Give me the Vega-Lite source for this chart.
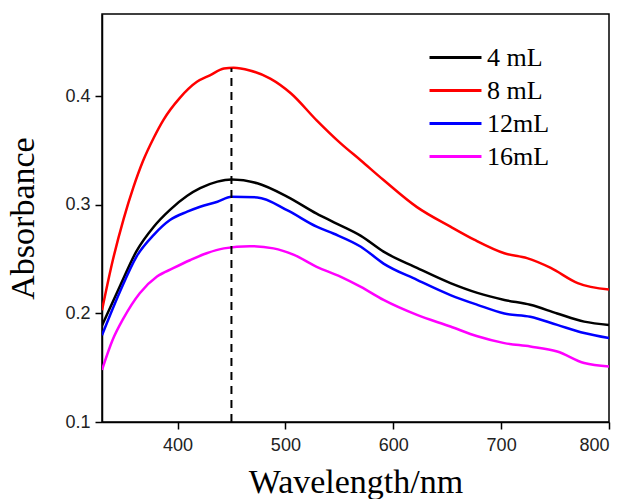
{
  "$schema": "https://vega.github.io/schema/vega-lite/v6.json",
  "width": 507,
  "height": 408,
  "autosize": {"type": "none"},
  "padding": {"left": 102, "top": 14, "right": 15, "bottom": 77},
  "background": "white",
  "config": {
    "view": {"stroke": "black", "strokeWidth": 1.5},
    "axis": {
      "labelFont": "Liberation Sans",
      "labelFontSize": 18,
      "labelColor": "#222222",
      "domainColor": "black",
      "domainWidth": 1.5,
      "tickColor": "black",
      "tickWidth": 1.5,
      "tickSize": 7,
      "grid": false,
      "titleFont": "Liberation Serif",
      "titleFontSize": 34,
      "titleFontWeight": "normal",
      "titleColor": "black"
    }
  },
  "datasets": {
    "spectra": [
      {"s": "4 mL", "x": 330, "y": 0.189}, {"s": "4 mL", "x": 347, "y": 0.226}, {"s": "4 mL", "x": 362, "y": 0.2575}, {"s": "4 mL", "x": 378, "y": 0.28}, {"s": "4 mL", "x": 393, "y": 0.2955}, {"s": "4 mL", "x": 409, "y": 0.3085}, {"s": "4 mL", "x": 421, "y": 0.3155}, {"s": "4 mL", "x": 437, "y": 0.3215}, {"s": "4 mL", "x": 450, "y": 0.3235}, {"s": "4 mL", "x": 474, "y": 0.32}, {"s": "4 mL", "x": 502, "y": 0.3075}, {"s": "4 mL", "x": 529, "y": 0.292}, {"s": "4 mL", "x": 545, "y": 0.284}, {"s": "4 mL", "x": 570, "y": 0.2715}, {"s": "4 mL", "x": 591, "y": 0.257}, {"s": "4 mL", "x": 622, "y": 0.242}, {"s": "4 mL", "x": 653, "y": 0.228}, {"s": "4 mL", "x": 678, "y": 0.219}, {"s": "4 mL", "x": 703, "y": 0.2125}, {"s": "4 mL", "x": 727, "y": 0.208}, {"s": "4 mL", "x": 752, "y": 0.2}, {"s": "4 mL", "x": 777, "y": 0.1925}, {"s": "4 mL", "x": 800, "y": 0.1895},
      {"s": "8 mL", "x": 330, "y": 0.203}, {"s": "8 mL", "x": 340, "y": 0.249}, {"s": "8 mL", "x": 350, "y": 0.287}, {"s": "8 mL", "x": 359, "y": 0.316}, {"s": "8 mL", "x": 368, "y": 0.3405}, {"s": "8 mL", "x": 378, "y": 0.362}, {"s": "8 mL", "x": 387, "y": 0.3785}, {"s": "8 mL", "x": 402, "y": 0.3985}, {"s": "8 mL", "x": 418, "y": 0.4135}, {"s": "8 mL", "x": 430, "y": 0.4195}, {"s": "8 mL", "x": 443, "y": 0.4257}, {"s": "8 mL", "x": 452, "y": 0.4265}, {"s": "8 mL", "x": 467, "y": 0.424}, {"s": "8 mL", "x": 486, "y": 0.4165}, {"s": "8 mL", "x": 505, "y": 0.403}, {"s": "8 mL", "x": 529, "y": 0.378}, {"s": "8 mL", "x": 551, "y": 0.357}, {"s": "8 mL", "x": 570, "y": 0.341}, {"s": "8 mL", "x": 591, "y": 0.323}, {"s": "8 mL", "x": 622, "y": 0.298}, {"s": "8 mL", "x": 653, "y": 0.28}, {"s": "8 mL", "x": 675, "y": 0.268}, {"s": "8 mL", "x": 703, "y": 0.2555}, {"s": "8 mL", "x": 724, "y": 0.251}, {"s": "8 mL", "x": 746, "y": 0.242}, {"s": "8 mL", "x": 771, "y": 0.228}, {"s": "8 mL", "x": 800, "y": 0.222},
      {"s": "12mL", "x": 330, "y": 0.18}, {"s": "12mL", "x": 347, "y": 0.221}, {"s": "12mL", "x": 362, "y": 0.2525}, {"s": "12mL", "x": 378, "y": 0.2725}, {"s": "12mL", "x": 393, "y": 0.2861}, {"s": "12mL", "x": 409, "y": 0.2938}, {"s": "12mL", "x": 421, "y": 0.2984}, {"s": "12mL", "x": 437, "y": 0.303}, {"s": "12mL", "x": 450, "y": 0.3075}, {"s": "12mL", "x": 474, "y": 0.307}, {"s": "12mL", "x": 502, "y": 0.295}, {"s": "12mL", "x": 529, "y": 0.28}, {"s": "12mL", "x": 545, "y": 0.2735}, {"s": "12mL", "x": 570, "y": 0.2615}, {"s": "12mL", "x": 591, "y": 0.246}, {"s": "12mL", "x": 622, "y": 0.231}, {"s": "12mL", "x": 653, "y": 0.217}, {"s": "12mL", "x": 678, "y": 0.208}, {"s": "12mL", "x": 703, "y": 0.2}, {"s": "12mL", "x": 727, "y": 0.197}, {"s": "12mL", "x": 752, "y": 0.1895}, {"s": "12mL", "x": 777, "y": 0.182}, {"s": "12mL", "x": 800, "y": 0.1773},
      {"s": "16mL", "x": 330, "y": 0.148}, {"s": "16mL", "x": 340, "y": 0.176}, {"s": "16mL", "x": 350, "y": 0.1957}, {"s": "16mL", "x": 365, "y": 0.2187}, {"s": "16mL", "x": 381, "y": 0.234}, {"s": "16mL", "x": 396, "y": 0.2417}, {"s": "16mL", "x": 412, "y": 0.2493}, {"s": "16mL", "x": 427, "y": 0.2555}, {"s": "16mL", "x": 443, "y": 0.26}, {"s": "16mL", "x": 467, "y": 0.262}, {"s": "16mL", "x": 489, "y": 0.26}, {"s": "16mL", "x": 508, "y": 0.254}, {"s": "16mL", "x": 529, "y": 0.243}, {"s": "16mL", "x": 551, "y": 0.234}, {"s": "16mL", "x": 570, "y": 0.2245}, {"s": "16mL", "x": 591, "y": 0.2125}, {"s": "16mL", "x": 622, "y": 0.1987}, {"s": "16mL", "x": 653, "y": 0.188}, {"s": "16mL", "x": 678, "y": 0.179}, {"s": "16mL", "x": 703, "y": 0.1727}, {"s": "16mL", "x": 727, "y": 0.1696}, {"s": "16mL", "x": 752, "y": 0.165}, {"s": "16mL", "x": 777, "y": 0.1543}, {"s": "16mL", "x": 800, "y": 0.1512}
    ],
    "marker": [{"x": 450, "y": 0.1, "y2": 0.426}]
  },
  "layer": [
    {
      "data": {"name": "spectra"},
      "mark": {"type": "line", "strokeWidth": 2.5, "interpolate": "monotone", "clip": true},
      "encoding": {
        "x": {"field": "x", "type": "quantitative", "title": "Wavelength/nm",
          "scale": {"domain": [330, 800], "nice": false, "zero": false},
          "axis": {"values": [400, 500, 600, 700, 800], "labelPadding": 7, "titlePadding": 11}},
        "y": {"field": "y", "type": "quantitative", "title": "Absorbance",
          "scale": {"domain": [0.1, 0.476], "nice": false, "zero": false},
          "axis": {"values": [0.1, 0.2, 0.3, 0.4], "format": ".1f", "labelPadding": 5, "titlePadding": 24}},
        "color": {"field": "s", "type": "nominal",
          "scale": {"domain": ["4 mL", "8 mL", "12mL", "16mL"], "range": ["#000000", "#ff0000", "#0000ff", "#ff00ff"]},
          "legend": {"orient": "none", "legendX": 326, "legendY": 27, "title": null, "symbolType": "stroke", "symbolSize": 2700, "symbolStrokeWidth": 3, "labelFont": "Liberation Serif", "labelFontSize": 26, "labelColor": "black", "rowPadding": 0, "clipHeight": 33, "labelOffset": 4}}
      }
    },
    {
      "data": {"name": "marker"},
      "mark": {"type": "rule", "color": "black", "strokeWidth": 2, "strokeDash": [8, 6]},
      "encoding": {
        "x": {"field": "x", "type": "quantitative"},
        "y": {"field": "y", "type": "quantitative"},
        "y2": {"field": "y2"}
      }
    }
  ]
}
